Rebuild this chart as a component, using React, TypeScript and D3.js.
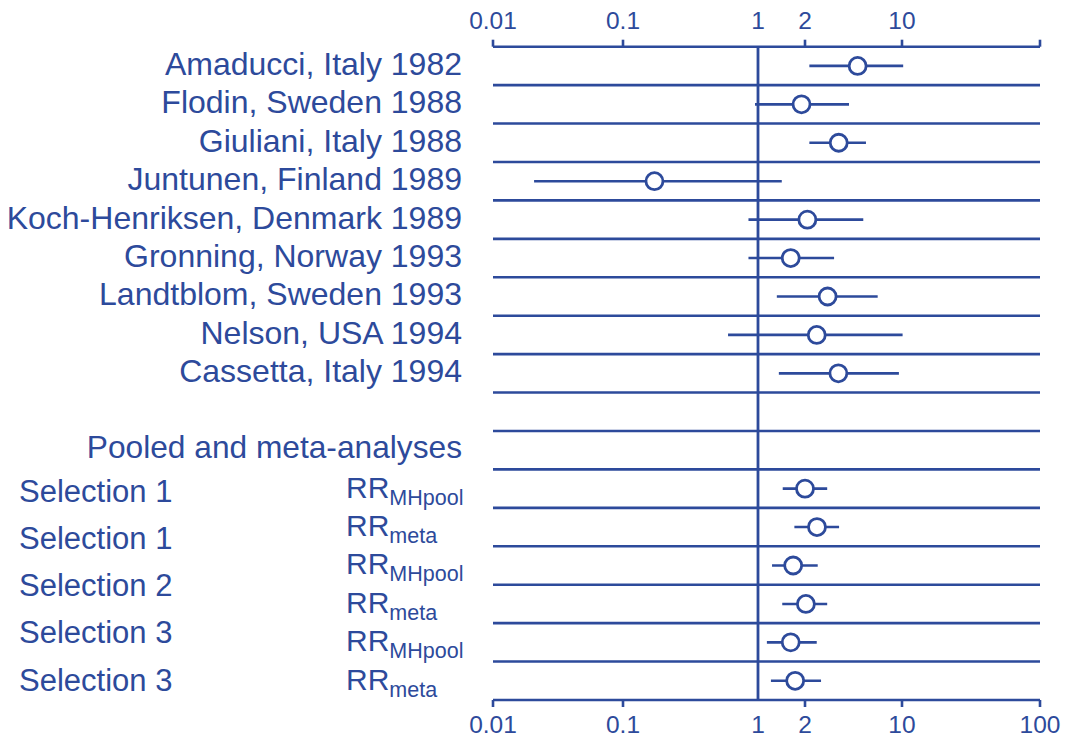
import React, { useEffect, useRef } from "react"
import * as d3 from "d3"

// study-level relative risks
const studies = [
    "Amaducci, Italy 1982",
    "Flodin, Sweden 1988",
    "Giuliani, Italy 1988",
    "Juntunen, Finland 1989",
    "Koch-Henriksen, Denmark 1989",
    "Gronning, Norway 1993",
    "Landtblom, Sweden 1993",
    "Nelson, USA 1994",
    "Cassetta, Italy 1994",
]
const studyRR = [4.79, 1.9, 3.5, 0.171, 2.08, 1.62, 2.91, 2.43, 3.48]
const studyLo = [2.15, 0.95, 2.15, 0.0207, 0.85, 0.85, 1.32, 0.6, 1.36]
const studyHi = [10.2, 4.15, 5.5, 1.42, 5.26, 3.24, 6.68, 10.1, 9.5]

// pooled / meta-analysis rows
const pooledHeader = "Pooled and meta-analyses"
const selections = ["Selection 1", "Selection 1", "Selection 2", "Selection 3", "Selection 3"]
const pooledType = ["MHpool", "meta", "MHpool", "meta", "MHpool", "meta"]
const pooledRR = [2.0, 2.44, 1.68, 2.03, 1.62, 1.73]
const pooledLo = [1.44, 1.71, 1.23, 1.43, 1.14, 1.21]
const pooledHi = [2.89, 3.52, 2.47, 2.89, 2.43, 2.61]

const topTicks = [0.01, 0.1, 1, 2, 10]
const bottomTicks = [0.01, 0.1, 1, 2, 10, 100]
const tickMarks = [0.01, 0.1, 2, 10, 100]

const color = "#2d4a9b"
const font = "'Liberation Sans', Arial, Helvetica, sans-serif"

export default function App() {
    const ref = useRef<SVGSVGElement>(null)

    useEffect(() => {
        const svg = d3.select(ref.current)
        svg.selectAll("*").remove()

        const axisTop = 46.7
        const axisBottom = 700
        const nRows = studies.length + 2 + pooledType.length

        const x = d3
            .scaleLog()
            .domain([0.01, 0.1, 1, 2, 10, 100])
            .range([493, 623, 758, 805, 902, 1040])
        const row = d3
            .scaleBand<number>()
            .domain(d3.range(nRows))
            .range([axisTop, axisBottom])
        const yc = (i: number) => (row(i) as number) + row.bandwidth() / 2
        const [x0, x1] = [x(0.01), x(100)]

        // row separators
        svg.append("g")
            .selectAll("line")
            .data(d3.range(1, nRows))
            .enter()
            .append("line")
            .attr("x1", x0)
            .attr("x2", x1)
            .attr("y1", d => row(d) as number)
            .attr("y2", d => row(d) as number)
            .attr("stroke", color)
            .attr("stroke-width", 2.6)

        // axes lines
        svg.append("line").attr("x1", x0).attr("x2", x1).attr("y1", axisTop).attr("y2", axisTop)
            .attr("stroke", color).attr("stroke-width", 2.6)
        svg.append("line").attr("x1", x0).attr("x2", x1).attr("y1", axisBottom).attr("y2", axisBottom)
            .attr("stroke", color).attr("stroke-width", 2.6)
        svg.append("line").attr("x1", x(1)).attr("x2", x(1)).attr("y1", axisTop).attr("y2", axisBottom)
            .attr("stroke", color).attr("stroke-width", 2.8)

        svg.append("g")
            .selectAll("line")
            .data(tickMarks)
            .enter()
            .append("line")
            .attr("x1", d => x(d))
            .attr("x2", d => x(d))
            .attr("y1", axisTop - 7)
            .attr("y2", axisTop)
            .attr("stroke", color)
            .attr("stroke-width", 2.6)
        svg.append("g")
            .selectAll("line")
            .data(tickMarks)
            .enter()
            .append("line")
            .attr("x1", d => x(d))
            .attr("x2", d => x(d))
            .attr("y1", axisBottom)
            .attr("y2", axisBottom + 7)
            .attr("stroke", color)
            .attr("stroke-width", 2.6)

        svg.append("g")
            .selectAll("text")
            .data(topTicks)
            .enter()
            .append("text")
            .attr("x", d => x(d))
            .attr("y", 29)
            .attr("text-anchor", "middle")
            .attr("font-size", 24.5)
            .attr("font-family", font)
            .attr("fill", color)
            .text(d => String(d))
        svg.append("g")
            .selectAll("text")
            .data(bottomTicks)
            .enter()
            .append("text")
            .attr("x", d => x(d))
            .attr("y", 733)
            .attr("text-anchor", "middle")
            .attr("font-size", 24.5)
            .attr("font-family", font)
            .attr("fill", color)
            .text(d => String(d))

        // left labels
        const labelX = 462
        svg.append("g")
            .selectAll("text")
            .data(studies)
            .enter()
            .append("text")
            .attr("x", labelX)
            .attr("y", (d, i) => yc(i) + 9)
            .attr("text-anchor", "end")
            .attr("font-size", 32)
            .attr("font-family", font)
            .attr("fill", color)
            .text(d => d)

        const headerRow = studies.length + 1
        svg.append("text")
            .attr("x", labelX)
            .attr("y", yc(headerRow) + 8)
            .attr("text-anchor", "end")
            .attr("font-size", 31.7)
            .attr("font-family", font)
            .attr("fill", color)
            .text(pooledHeader)

        const selY = d3.scaleLinear().domain([0, selections.length - 1]).range([501.7, 690.7])
        svg.append("g")
            .selectAll("text")
            .data(selections)
            .enter()
            .append("text")
            .attr("x", 19)
            .attr("y", (d, i) => selY(i))
            .attr("font-size", 31)
            .attr("font-family", font)
            .attr("fill", color)
            .text(d => d)

        const firstPooled = studies.length + 2
        const rr = svg.append("g")
            .selectAll("text")
            .data(pooledType)
            .enter()
            .append("text")
            .attr("x", 346)
            .attr("y", (d, i) => yc(firstPooled + i) + 9)
            .attr("font-size", 30)
            .attr("font-family", font)
            .attr("fill", color)
        rr.append("tspan").text("RR")
        rr.append("tspan")
            .attr("font-size", 21.5)
            .attr("dy", 7)
            .text(d => d)

        // estimates with confidence intervals
        const est = studies.map((s, i) => ({ row: i, rr: studyRR[i], lo: studyLo[i], hi: studyHi[i] }))
            .concat(pooledType.map((p, i) => ({ row: firstPooled + i, rr: pooledRR[i], lo: pooledLo[i], hi: pooledHi[i] })))

        const marks = svg.append("g").selectAll("g").data(est).enter().append("g")
        marks.append("line")
            .attr("x1", d => x(d.lo))
            .attr("x2", d => x(d.hi))
            .attr("y1", d => yc(d.row))
            .attr("y2", d => yc(d.row))
            .attr("stroke", color)
            .attr("stroke-width", 2.6)
        marks.append("circle")
            .attr("cx", d => x(d.rr))
            .attr("cy", d => yc(d.row))
            .attr("r", 8.5)
            .attr("fill", "white")
            .attr("stroke", color)
            .attr("stroke-width", 2.8)
    }, [])

    return (
        <div style={{ position: "absolute", left: 0, top: 0 }}>
            <svg ref={ref} width={1067} height={740} />
        </div>
    )
}
